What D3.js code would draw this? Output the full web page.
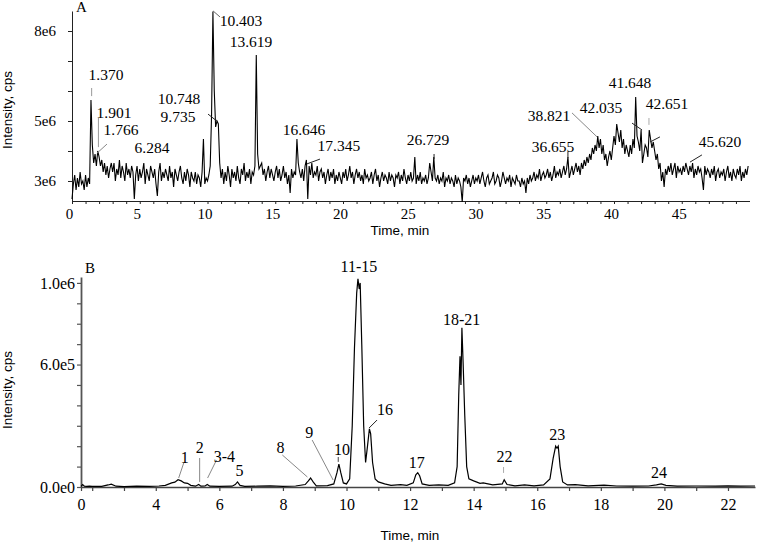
<!DOCTYPE html>
<html>
<head>
<meta charset="utf-8">
<script src="https://cdnjs.cloudflare.com/ajax/libs/d3/7.8.5/d3.min.js"></script>
<style>
  body { margin: 0; background: #fff; }
</style>
</head>
<body>
<div id="chart"></div>
<script>
var SERIF = "'Liberation Serif', 'Times New Roman', serif";
var SANS = "'Liberation Sans', Arial, sans-serif";

// ---- panel A: one value every 0.1 min from 0 to 49.9 min, intensity in 1e6 cps (one row = one minute)
var startA = 0, stepA = 0.1;
var intensityA = [
  2.4, 2.9, 3.2, 2.7, 3.1, 2.8, 3.3, 2.9, 3.0, 2.7,
  3.2, 2.8, 3.1, 2.9, 5.7, 4.2, 3.6, 3.9, 3.5, 4.0,
  3.8, 3.5, 3.7, 3.3, 3.6, 3.2, 3.5, 3.1, 3.4, 3.6,
  3.3, 3.6, 3.0, 3.4, 3.2, 3.7, 3.1, 3.5, 3.3, 3.0,
  3.6, 3.2, 3.4, 3.1, 3.5, 3.3, 2.4, 3.2, 3.5, 3.0,
  3.4, 3.1, 3.3, 3.6, 2.9, 3.4, 3.2, 3.0, 3.5, 3.3,
  3.1, 3.4, 2.9, 2.5, 3.3, 3.6, 3.0, 3.3, 3.1, 3.4,
  3.2, 3.0, 3.5, 3.1, 3.3, 2.8, 3.4, 3.2, 3.0, 3.3,
  3.5, 3.1, 2.9, 3.3, 3.0, 3.4, 3.2, 2.8, 3.3, 3.1,
  3.0, 3.3, 2.9, 3.2, 3.1, 2.8, 3.3, 4.4, 2.9, 3.1,
  3.0, 3.2, 3.5, 5.2, 8.65, 6.0, 4.8, 5.0, 4.9, 3.6,
  3.1, 3.4, 2.9, 3.3, 3.0, 3.5, 3.2, 2.8, 3.4, 3.1,
  3.3, 3.0, 3.5, 3.1, 2.9, 3.4, 3.2, 3.6, 3.0, 3.3,
  3.1, 3.4, 2.9, 3.3, 3.2, 3.5, 7.2, 3.9, 3.4, 3.5,
  3.6, 3.2, 3.4, 3.0, 3.3, 3.5, 3.1, 3.4, 3.2, 3.0,
  3.3, 3.5, 3.1, 3.4, 3.0, 3.2, 3.5, 3.1, 3.3, 2.9,
  3.2, 2.6, 3.4, 3.1, 3.3, 3.2, 4.4, 3.6, 3.3, 3.1,
  3.4, 3.0, 3.5, 3.7, 2.4, 3.5, 3.2, 3.6, 3.1, 3.3,
  3.2, 3.5, 3.0, 3.3, 3.4, 3.1, 3.3, 2.9, 3.2, 3.4,
  3.0, 3.3, 3.1, 3.4, 2.9, 3.2, 3.0, 3.3, 3.1, 2.9,
  3.3, 3.1, 3.4, 3.0, 3.2, 3.5, 3.1, 3.3, 2.9, 3.2,
  3.4, 3.1, 3.3, 3.0, 3.2, 2.9, 3.4, 3.1, 3.2, 3.0,
  3.1, 3.3, 2.9, 3.2, 3.4, 3.0, 3.2, 2.8, 3.1, 3.3,
  3.0, 3.2, 3.1, 2.9, 3.3, 3.0, 3.2, 3.1, 2.8, 3.2,
  3.1, 3.3, 2.9, 3.2, 3.0, 3.4, 3.1, 2.9, 3.2, 3.0,
  3.3, 3.0, 3.1, 3.8, 2.9, 3.2, 3.0, 3.3, 2.9, 3.1,
  3.0, 3.2, 2.9, 3.1, 3.6, 3.3, 3.0, 3.8, 3.1, 3.0,
  3.2, 2.9, 3.1, 3.0, 3.3, 2.8, 3.1, 3.0, 3.2, 2.9,
  3.1, 3.0, 2.8, 3.2, 2.9, 3.1, 3.0, 2.8, 2.3, 3.1,
  3.0, 3.2, 2.9, 3.1, 2.8, 3.0, 3.2, 2.9, 3.1, 3.0,
  3.2, 2.9, 3.1, 3.3, 3.0, 2.8, 3.1, 3.2, 2.9, 3.0,
  3.1, 3.3, 2.9, 3.0, 3.2, 3.1, 2.8, 3.0, 3.3, 3.1,
  2.9, 3.1, 3.0, 3.2, 2.8, 3.1, 3.0, 2.9, 3.2, 3.0,
  3.0, 2.8, 3.1, 2.9, 3.0, 2.6, 3.1, 2.9, 3.2, 3.0,
  3.1, 3.3, 3.0, 3.2, 3.1, 3.4, 3.0, 3.2, 3.3, 3.1,
  3.2, 3.4, 3.1, 3.3, 3.0, 3.2, 3.5, 3.1, 3.3, 3.2,
  3.4, 3.1, 3.3, 3.5, 3.2, 3.4, 3.8, 3.1, 3.3, 3.5,
  3.2, 3.4, 3.6, 3.3, 3.5, 3.2, 3.6, 3.4, 3.7, 3.5,
  3.8, 3.6, 3.9, 3.7, 4.1, 3.9, 4.2, 4.0, 4.5, 4.1,
  4.4, 3.9, 4.2, 3.7, 3.9, 3.5, 3.8, 4.0, 3.7, 4.1,
  4.5, 4.2, 4.9, 4.6, 4.3, 4.7, 4.1, 4.4, 3.9, 4.2,
  4.0, 3.8, 4.2, 3.9, 4.4, 4.1, 5.8, 4.5, 4.3, 4.0,
  4.7, 3.6, 3.9, 4.2, 4.1, 3.8, 4.7, 4.4, 4.1, 4.3,
  4.0, 3.7, 3.9, 3.4, 3.6, 3.0, 3.3, 2.8, 3.4, 3.2,
  3.5, 3.3, 3.6, 3.2, 3.4, 3.6, 3.1, 3.5, 3.3, 3.4,
  3.2, 3.5, 3.3, 3.6, 3.4, 3.2, 3.5, 3.3, 3.6, 3.1,
  3.4, 3.2, 3.5, 3.3, 3.4, 3.1, 2.7, 3.5, 3.2, 3.4,
  3.3, 3.1, 3.4, 3.2, 3.5, 3.0, 3.3, 3.4, 3.1, 3.3,
  3.2, 3.4, 3.0, 3.3, 3.5, 3.1, 3.3, 3.0, 3.4, 3.2,
  3.1, 3.4, 3.2, 3.5, 3.0, 3.3, 3.1, 3.4, 3.2, 3.5
];
var yLabelsA = {3: "3e6", 5: "5e6", 8: "8e6"};

// peak labels of A, placed in data units (min, 1e6 cps)
var annA = [
  {text: "1.370",  t: 2.51,  v: 6.37},
  {text: "1.901",  t: 3.10,  v: 5.10},
  {text: "1.766",  t: 3.62,  v: 4.53},
  {text: "6.284",  t: 5.90,  v: 3.93},
  {text: "10.748", t: 7.90,  v: 5.57},
  {text: "9.735",  t: 7.82,  v: 4.97},
  {text: "10.403", t: 12.47, v: 8.17},
  {text: "13.619", t: 13.21, v: 7.47},
  {text: "16.646", t: 17.12, v: 4.53},
  {text: "17.345", t: 19.70, v: 4.00},
  {text: "26.729", t: 26.27, v: 4.20},
  {text: "36.655", t: 35.50, v: 3.97},
  {text: "38.821", t: 35.20, v: 5.00},
  {text: "42.035", t: 39.04, v: 5.27},
  {text: "41.648", t: 41.18, v: 6.10},
  {text: "42.651", t: 43.91, v: 5.40},
  {text: "45.620", t: 47.82, v: 4.13}
];
var leadA = [
  {t1: 1.45,  v1: 6.10, t2: 1.45,  v2: 5.83, c: "#999"},
  {t1: 1.95,  v1: 5.10, t2: 1.95,  v2: 4.13, c: "#999"},
  {t1: 1.85,  v1: 3.93, t2: 2.58,  v2: 4.23, c: "#888"},
  {t1: 10.04, v1: 5.23, t2: 10.77, v2: 4.97, c: "#222"},
  {t1: 10.41, v1: 8.67, t2: 10.92, v2: 8.47, c: "#666"},
  {t1: 17.34, v1: 3.57, t2: 18.30, v2: 3.73, c: "#222"},
  {t1: 26.72, v1: 3.90, t2: 26.72, v2: 3.73, c: "#222"},
  {t1: 36.60, v1: 3.97, t2: 36.60, v2: 3.77, c: "#222"},
  {t1: 36.90, v1: 5.27, t2: 38.75, v2: 4.47, c: "#888"},
  {t1: 41.33, v1: 4.93, t2: 42.07, v2: 4.70, c: "#222"},
  {t1: 42.58, v1: 5.10, t2: 42.58, v2: 4.87, c: "#aaa"},
  {t1: 42.66, v1: 4.30, t2: 43.39, v2: 4.47, c: "#222"},
  {t1: 45.61, v1: 3.63, t2: 46.49, v2: 3.87, c: "#222"}
];

// ---- panel B: time (min) and intensity (1e6 cps)
var timeB = [0, 0.3, 0.6, 1.0, 1.5, 2.0, 2.3, 2.5, 2.6, 2.75, 3.0, 3.4, 3.8, 4.1, 4.3, 4.5, 4.6, 4.7, 4.8, 4.9,
  5.0, 5.1, 5.25, 5.35, 5.42, 5.55, 5.62, 5.7, 6.0, 6.4, 6.5, 6.57, 6.65, 6.8, 7.2, 7.6, 8.0, 8.4, 8.7, 8.8,
  8.87, 8.95, 9.05, 9.4, 9.6, 9.7, 9.76, 9.82, 9.9, 10.0, 10.1, 10.18, 10.25, 10.32, 10.36, 10.4, 10.43, 10.48, 10.54, 10.6,
  10.66, 10.72, 10.76, 10.82, 10.9, 11.0, 11.1, 11.2, 11.4, 11.7, 11.9, 12.1, 12.18, 12.24, 12.3, 12.38, 12.6, 12.9, 13.2, 13.4,
  13.48, 13.53, 13.57, 13.6, 13.63, 13.67, 13.72, 13.78, 13.85, 14.0, 14.2, 14.3, 14.6, 14.9, 14.96, 15.05, 15.3, 15.6, 15.9, 16.2,
  16.4, 16.5, 16.58, 16.62, 16.66, 16.72, 16.8, 16.95, 17.2, 17.6, 18.1, 18.5, 19.0, 19.5, 19.75, 19.9, 20.05, 20.4, 21.0, 21.6,
  22.0, 22.4, 22.85];
var intensityB = [0.003, 0.012, 0.004, 0.003, 0.004, 0.003, 0.003, 0.010, 0.014, 0.004, 0.002, 0.004, 0.003, 0.005, 0.008, 0.020, 0.024, 0.036, 0.030, 0.020,
  0.018, 0.008, 0.004, 0.012, 0.004, 0.005, 0.012, 0.004, 0.003, 0.004, 0.012, 0.025, 0.008, 0.003, 0.004, 0.006, 0.003, 0.005, 0.012, 0.030,
  0.044, 0.025, 0.006, 0.007, 0.015, 0.070, 0.112, 0.070, 0.020, 0.015, 0.040, 0.300, 0.680, 0.950, 1.020, 0.970, 1.000, 0.700, 0.300, 0.120,
  0.200, 0.285, 0.260, 0.120, 0.040, 0.025, 0.020, 0.015, 0.008, 0.012, 0.008, 0.020, 0.060, 0.070, 0.055, 0.015, 0.008, 0.010, 0.008, 0.020,
  0.100, 0.450, 0.640, 0.500, 0.780, 0.600, 0.350, 0.100, 0.040, 0.030, 0.018, 0.020, 0.010, 0.015, 0.035, 0.012, 0.006, 0.010, 0.006, 0.010,
  0.040, 0.140, 0.200, 0.190, 0.200, 0.100, 0.025, 0.010, 0.012, 0.006, 0.009, 0.005, 0.004, 0.005, 0.010, 0.015, 0.008, 0.004, 0.005, 0.004,
  0.006, 0.004, 0.005];
var xTicksB = [0, 2, 3, 4, 5, 6, 7, 8, 9, 10, 11, 12, 13, 14, 15, 16, 17, 18, 19, 20, 21, 22];
var xLabelsB = [0, 4, 6, 8, 10, 12, 14, 16, 18, 20, 22];
var yLabelsB = {0: "0.0e0", 6: "6.0e5", 10: "1.0e6"};

var annB = [
  {text: "1",     t: 4.91,  v: 0.118},
  {text: "2",     t: 5.38,  v: 0.167},
  {text: "3-4",   t: 6.16,  v: 0.123},
  {text: "5",     t: 6.63,  v: 0.054},
  {text: "8",     t: 7.92,  v: 0.167},
  {text: "9",     t: 8.83,  v: 0.240},
  {text: "10",    t: 9.86,  v: 0.157},
  {text: "11-15", t: 10.39, v: 1.054},
  {text: "16",    t: 11.21, v: 0.353},
  {text: "17",    t: 12.21, v: 0.093},
  {text: "18-21", t: 13.62, v: 0.794},
  {text: "22",    t: 14.97, v: 0.123},
  {text: "23",    t: 16.63, v: 0.230},
  {text: "24",    t: 19.83, v: 0.044}
];
var leadB = [
  {t1: 4.88,  v1: 0.118, t2: 4.72,  v2: 0.044, c: "#888"},
  {t1: 5.38,  v1: 0.142, t2: 5.38,  v2: 0.025, c: "#888"},
  {t1: 5.91,  v1: 0.132, t2: 5.63,  v2: 0.044, c: "#888"},
  {t1: 7.98,  v1: 0.157, t2: 8.77,  v2: 0.049, c: "#888"},
  {t1: 8.92,  v1: 0.230, t2: 9.58,  v2: 0.034, c: "#888"},
  {t1: 9.74,  v1: 0.147, t2: 9.74,  v2: 0.123, c: "#444"},
  {t1: 10.96, v1: 0.328, t2: 10.71, v2: 0.289, c: "#222"},
  {t1: 14.94, v1: 0.098, t2: 14.94, v2: 0.069, c: "#aaa"}
];

var W = 758, H = 545;
var svg = d3.select("#chart").append("svg")
    .attr("width", W).attr("height", H);

// restyle a d3 axis: serif tick labels, dark lines
function styleAxis(g, size, col, w) {
  g.attr("font-size", size).attr("font-family", SERIF);
  g.select(".domain").attr("stroke", col).attr("stroke-width", w);
  g.selectAll(".tick line").attr("stroke", col).attr("stroke-width", Math.min(w, 1.2));
  g.selectAll(".tick text").attr("fill", "#000").style("font-family", SERIF);
}

// ---------------- panel A ----------------
var xA = d3.scaleLinear().domain([0, 50]).range([72, 749.5]);
var yA = d3.scaleLinear().domain([2.333, 8.667]).range([201, 11]);

var gA = svg.append("g");

gA.append("g")
    .attr("transform", "translate(0," + yA(2.333) + ")")
    .call(d3.axisBottom(xA).tickValues(d3.range(0, 50, 1)).tickSize(3).tickPadding(4).tickSizeOuter(0)
      .tickFormat(function(d) { return d % 5 === 0 ? d : ""; }))
    .call(function(g) {
      styleAxis(g, 15, "#222", 1);
      g.selectAll(".tick text").attr("dx", "-3");
    });

gA.append("g")
    .attr("transform", "translate(" + xA(0) + ",0)")
    .call(d3.axisLeft(yA).tickValues([3, 4, 5, 6, 7, 8]).tickSize(4).tickPadding(12).tickSizeOuter(0)
      .tickFormat(function(d) { return yLabelsA[d] || ""; }))
    .call(function(g) { styleAxis(g, 15, "#222", 1); });

var lineA = d3.line()
    .x(function(d, i) { return xA(startA + i * stepA); })
    .y(function(d) { return yA(d); });

gA.append("path")
    .datum(intensityA)
    .attr("fill", "none")
    .attr("stroke", "#000")
    .attr("stroke-width", 1.1)
    .attr("d", lineA);

gA.selectAll(".leadA").data(leadA).enter().append("line")
    .attr("x1", function(d) { return xA(d.t1); })
    .attr("y1", function(d) { return yA(d.v1); })
    .attr("x2", function(d) { return xA(d.t2); })
    .attr("y2", function(d) { return yA(d.v2); })
    .attr("stroke", function(d) { return d.c; })
    .attr("stroke-width", 1);

gA.selectAll(".annA").data(annA).enter().append("text")
    .style("font-family", SERIF)
    .attr("font-size", 15.5)
    .attr("text-anchor", "middle")
    .attr("x", function(d) { return xA(d.t); })
    .attr("y", function(d) { return yA(d.v); })
    .text(function(d) { return d.text; });

gA.append("text").style("font-family", SERIF).attr("font-size", 15)
    .attr("x", 76).attr("y", 12).text("A");
gA.append("text").style("font-family", SANS).attr("font-size", 13.5).attr("text-anchor", "middle")
    .attr("x", 400).attr("y", 235).text("Time, min");
gA.append("text").style("font-family", SANS).attr("font-size", 13.5).attr("text-anchor", "middle")
    .attr("transform", "translate(12,110) rotate(-90)").text("Intensity, cps");

// ---------------- panel B ----------------
var xB = d3.scaleLinear().domain([0, 2, 22.85]).range([81, 92.2, 755]);
var yB = d3.scaleLinear().domain([0, 1.029]).range([487, 277]);

var gB = svg.append("g");

gB.append("g")
    .attr("transform", "translate(0," + yB(0) + ")")
    .call(d3.axisBottom(xB).tickValues(xTicksB).tickSize(4).tickPadding(8).tickSizeOuter(0)
      .tickFormat(function(d) { return xLabelsB.indexOf(d) >= 0 ? d : ""; }))
    .call(function(g) { styleAxis(g, 16, "#444", 1.5); });

gB.append("g")
    .attr("transform", "translate(" + xB(0) + ",0)")
    .call(d3.axisLeft(yB).tickValues(d3.range(0, 11).map(function(k) { return k / 10; })).tickSize(4).tickPadding(2).tickSizeOuter(0)
      .tickFormat(function(d) { return yLabelsB[Math.round(d * 10)] || ""; }))
    .call(function(g) { styleAxis(g, 16, "#555", 1.8); });

var lineB = d3.line()
    .x(function(d, i) { return xB(timeB[i]); })
    .y(function(d) { return yB(d); });

gB.append("path")
    .datum(intensityB)
    .attr("fill", "none")
    .attr("stroke", "#000")
    .attr("stroke-width", 1.2)
    .attr("d", lineB);

gB.selectAll(".leadB").data(leadB).enter().append("line")
    .attr("x1", function(d) { return xB(d.t1); })
    .attr("y1", function(d) { return yB(d.v1); })
    .attr("x2", function(d) { return xB(d.t2); })
    .attr("y2", function(d) { return yB(d.v2); })
    .attr("stroke", function(d) { return d.c; })
    .attr("stroke-width", 1);

gB.selectAll(".annB").data(annB).enter().append("text")
    .style("font-family", SERIF)
    .attr("font-size", 16)
    .attr("text-anchor", "middle")
    .attr("x", function(d) { return xB(d.t); })
    .attr("y", function(d) { return yB(d.v); })
    .text(function(d) { return d.text; });

gB.append("text").style("font-family", SERIF).attr("font-size", 15)
    .attr("x", 85).attr("y", 273).text("B");
gB.append("text").style("font-family", SANS).attr("font-size", 13.5).attr("text-anchor", "middle")
    .attr("x", 410).attr("y", 540).text("Time, min");
gB.append("text").style("font-family", SANS).attr("font-size", 13.5).attr("text-anchor", "middle")
    .attr("transform", "translate(12,390) rotate(-90)").text("Intensity, cps");
</script>
</body>
</html>
